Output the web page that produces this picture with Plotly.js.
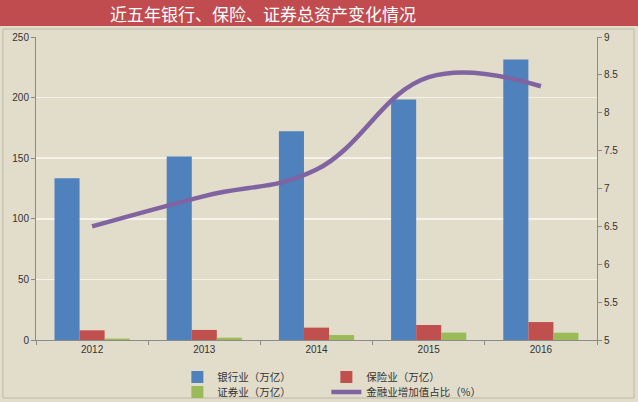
<!DOCTYPE html>
<html>
<head>
<meta charset="utf-8">
<script src="https://cdn.plot.ly/plotly-3.0.1.min.js"></script>
<style>html,body{margin:0;padding:0;background:#e2dccb;}#chart{width:638px;height:402px;}</style>
</head>
<body>
<div id="chart"></div>
<script>
const years = ["2012", "2013", "2014", "2015", "2016"];
const banking = [133.5, 151.3, 172.3, 198.5, 231.5];
const insurance = [8.0, 8.3, 10.2, 12.4, 14.8];
const securities = [1.2, 1.9, 4.1, 6.1, 6.0];
const financeShare = [6.5, 6.9, 7.25, 8.47, 8.35];
const seriesNames = ["银行业（万亿）", "保险业（万亿）", "证券业（万亿）", "金融业增加值占比（%）"];
const titleText = "近五年银行、保险、证券总资产变化情况";

const tickFont = {family: "Liberation Sans, DejaVu Sans, sans-serif", size: 10, color: "#333"};
const traces = [
  {type: "bar", name: seriesNames[0], x: years, y: banking, marker: {color: "#4f81bd"}, yaxis: "y", legend: "legend"},
  {type: "bar", name: seriesNames[1], x: years, y: insurance, marker: {color: "#c0504d"}, yaxis: "y", legend: "legend"},
  {type: "bar", name: seriesNames[2], x: years, y: securities, marker: {color: "#9bbb59"}, yaxis: "y", legend: "legend2"},
  {type: "scatter", mode: "lines", name: seriesNames[3], x: years, y: financeShare, yaxis: "y2", legend: "legend2",
   line: {color: "#8064a2", width: 4.5, shape: "spline", smoothing: 1.15}}
];
const legendBase = {orientation: "h", x: 0.252, xanchor: "left", yref: "container", yanchor: "middle",
    entrywidth: 104, entrywidthmode: "pixels", traceorder: "normal",
    font: {family: "Noto Sans CJK SC, sans-serif", size: 10.5, color: "#333"},
    bgcolor: "rgba(0,0,0,0)", itemwidth: 30};
const layout = {
  width: 638, height: 402,
  paper_bgcolor: "#e2dccb", plot_bgcolor: "#e2dccb",
  margin: {l: 36, r: 41, t: 37, b: 62, autoexpand: false},
  barmode: "group", bargap: 0.33, bargroupgap: 0,
  showlegend: true,
  legend: Object.assign({}, legendBase, {y: 0.062}),
  legend2: Object.assign({}, legendBase, {y: 0.025}),
  xaxis: {type: "category", showgrid: false, showline: true, linecolor: "#8a8a8a", linewidth: 1,
    ticks: "outside", tickson: "boundaries", ticklen: 4, tickcolor: "#8a8a8a", tickfont: tickFont},
  yaxis: {range: [0, 250], dtick: 50, showgrid: true, gridcolor: "#f5f2ea", gridwidth: 1.5,
    showline: true, linecolor: "#8a8a8a", ticks: "outside", ticklen: 4, tickcolor: "#8a8a8a",
    tickfont: tickFont, zeroline: false},
  yaxis2: {range: [5, 9], dtick: 0.5, overlaying: "y", side: "right", showgrid: false,
    showline: true, linecolor: "#8a8a8a", ticks: "outside", ticklen: 4, tickcolor: "#8a8a8a",
    tickfont: tickFont, zeroline: false},
  shapes: [
    {type: "rect", xref: "paper", yref: "paper", x0: -0.1, x1: 1.1, ysizemode: "pixel", yanchor: 1,
     y0: 11, y1: 45, fillcolor: "#c14c4f", line: {width: 0}, layer: "below"},
    {type: "rect", xref: "paper", yref: "paper", x0: -0.059, x1: 1.066, ysizemode: "pixel", yanchor: 1,
     y0: 8, y1: -361, fillcolor: "rgba(0,0,0,0)", line: {color: "#bdb8a8", width: 1}, layer: "below"}
  ],
  annotations: [
    {xref: "paper", yref: "paper", x: 0.405, y: 1, yshift: 24, xanchor: "center", yanchor: "middle",
     text: titleText, showarrow: false,
     font: {family: "Noto Sans CJK SC, sans-serif", size: 17, color: "#ffffff"}}
  ]
};
Plotly.newPlot("chart", traces, layout, {displayModeBar: false, staticPlot: true});
</script>
</body>
</html>
